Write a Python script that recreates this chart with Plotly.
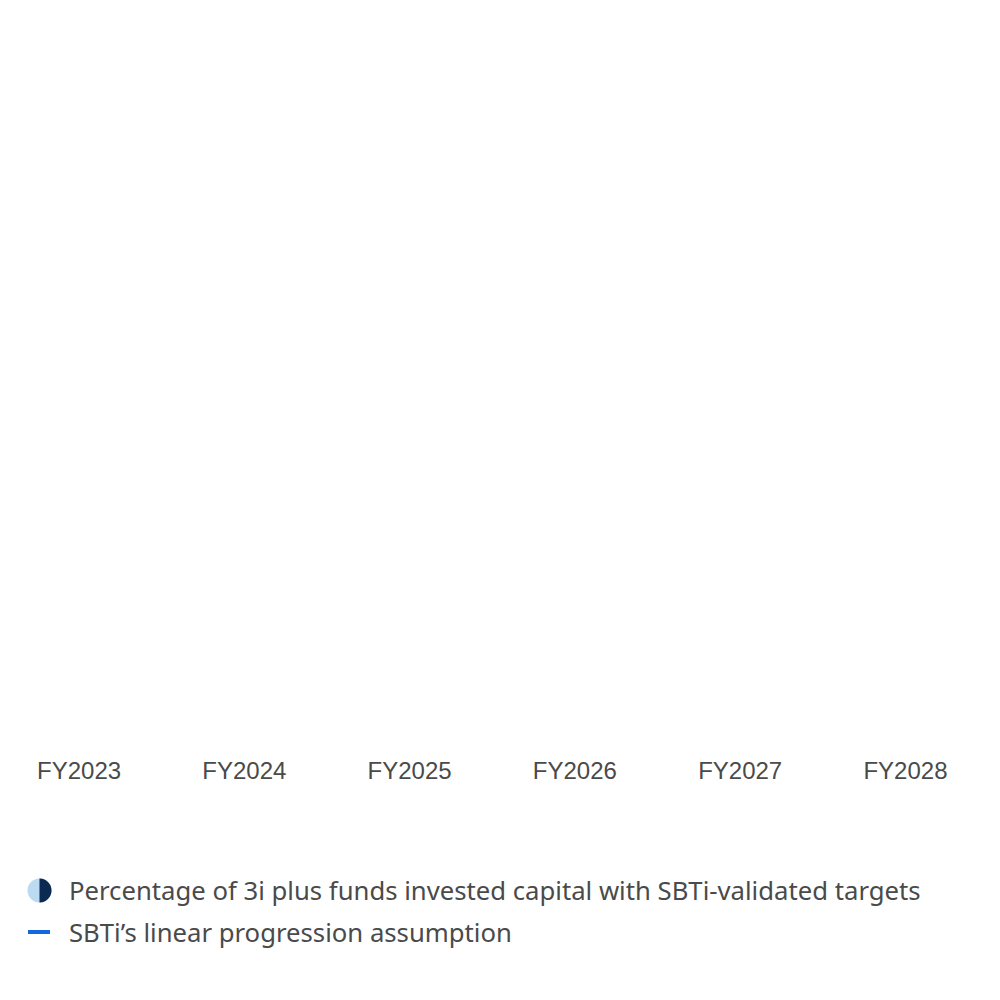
import numpy as np
import plotly.graph_objects as go

years = ["FY2023", "FY2024", "FY2025", "FY2026", "FY2027", "FY2028"]
# series were not yet drawn in the reference frame
invested_pct = [0, 0, 0, 0, 0, 0]
linear_pct = [None, None, None, None, None, None]

legend_labels = [
    "Percentage of 3i plus funds invested capital with SBTi-validated targets",
    "SBTi\u2019s linear progression assumption",
]

LIGHT = "#bcdaf2"
NAVY = "#0b2a52"
BLUE = "#1368dc"
TEXT = "#4a4a4a"

fig = go.Figure()
fig.add_trace(go.Bar(x=years, y=invested_pct, marker_color=NAVY,
                     marker_line_width=0,
                     name=legend_labels[0], showlegend=False))
fig.add_trace(go.Scatter(x=years, y=linear_pct, mode="lines",
                         line=dict(color=BLUE, width=4),
                         name=legend_labels[1], showlegend=False))

W, H = 1000, 1000
ml, mr, mt, mb = 0, 10, 20, 255
pw, ph = W - ml - mr, H - mt - mb
OFF = 8  # page body margin


def px_x(x):
    return (x - OFF - ml) / pw


def px_y(y):
    return (H - mb - (y - OFF)) / ph


# hand-made legend: half-coloured circle + blue dash
shapes = []
cx, cy, r = 39.5, 890.5, 12
shapes.append(dict(type="circle", xref="paper", yref="paper",
                   xsizemode="pixel", ysizemode="pixel",
                   xanchor=px_x(cx), yanchor=px_y(cy),
                   x0=-r, x1=r, y0=-r, y1=r,
                   fillcolor=LIGHT, line=dict(width=0)))
ang = np.linspace(-np.pi / 2, np.pi / 2, 40)
pts = " L".join(f"{r*np.cos(a):.2f},{r*np.sin(a):.2f}" for a in ang)
shapes.append(dict(type="path", xref="paper", yref="paper",
                   xsizemode="pixel", ysizemode="pixel",
                   xanchor=px_x(cx), yanchor=px_y(cy),
                   path=f"M{pts} Z", fillcolor=NAVY, line=dict(width=0)))
shapes.append(dict(type="line", xref="paper", yref="paper",
                   x0=px_x(28), x1=px_x(50), y0=px_y(932), y1=px_y(932),
                   line=dict(color=BLUE, width=4)))

annotations = []
for lab, yy in zip(legend_labels, [890, 932]):
    annotations.append(dict(text=lab, xref="paper", yref="paper",
                            x=px_x(67), y=px_y(yy), xanchor="left",
                            yanchor="middle", showarrow=False,
                            font=dict(family="Noto Sans", size=25.7, color=TEXT)))

fig.update_layout(
    width=W, height=H,
    margin=dict(l=ml, r=mr, t=mt, b=mb),
    paper_bgcolor="white", plot_bgcolor="white",
    showlegend=False,
    shapes=shapes,
    annotations=annotations,
    xaxis=dict(range=[-0.43, 5.56], showgrid=False, zeroline=False,
               showline=False, ticks="", ticklabelstandoff=1,
               tickfont=dict(family="Liberation Sans, Arial", size=24, color=TEXT)),
    yaxis=dict(range=[0, 100], visible=False, showgrid=False, zeroline=False),
)

fig.write_html("out.html")
